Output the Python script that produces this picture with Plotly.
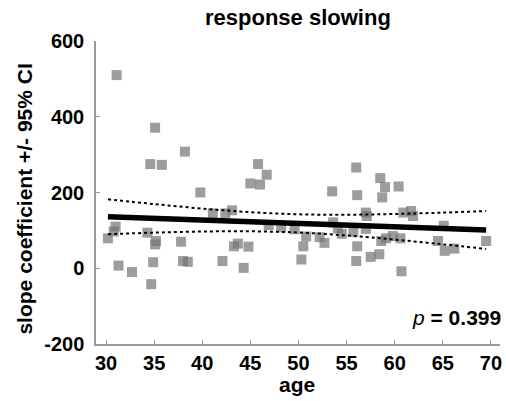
import plotly.graph_objects as go

# Scatter data (age, slope coefficient)
ages = [31.1, 35.1, 34.6, 35.8, 38.2, 39.8, 45.0, 45.8, 46.0, 46.7,
        56.0, 58.5, 59.0, 60.4, 53.5, 56.1, 58.7, 57.0, 57.1, 60.9,
        61.7, 61.9, 65.1, 53.6, 54.1, 54.5, 55.7, 57.0, 46.9, 48.2,
        49.6, 50.8, 50.5, 52.2, 52.7, 56.1, 50.3, 56.0, 57.5, 58.4,
        58.6, 59.1, 59.8, 60.6, 60.7, 64.5, 65.2, 66.2, 69.5, 31.0,
        30.8, 30.2, 34.3, 35.2, 35.1, 37.8, 31.3, 32.7, 34.9, 34.7,
        38.0, 38.5, 41.1, 42.4, 43.1, 43.3, 43.7, 44.8, 42.1, 44.3]
slopes = [510, 371, 275, 273, 308, 200, 224, 275, 221, 247,
          266, 238, 214, 216, 203, 193, 187, 147, 138, 147,
          151, 138, 112, 121, 105, 91, 96, 104, 114, 108,
          103, 84, 58, 82, 67, 58, 23, 19, 30, 37,
          72, 79, 85, 79, -8, 72, 46, 52, 72, 110,
          97, 79, 94, 72, 63, 70, 7, -10, 16, -42,
          19, 17, 145, 145, 153, 58, 65, 57, 19, 1]

# Regression line and 95% CI
fit_ages = [30.2, 35, 40, 45, 50, 55, 60, 65, 69.5]
fit_mid = [136, 131.7, 127.3, 122.8, 118.4, 113.9, 109.5, 105.0, 101]
ci_upper = [182, 169.4, 157.6, 148.1, 142.5, 141.3, 143.3, 146.9, 151]
ci_lower = [90, 94, 97, 97.5, 94.3, 86.5, 75.7, 63.1, 51]

x_ticks = [30, 35, 40, 45, 50, 55, 60, 65, 70]
y_ticks = [-200, 0, 200, 400, 600]
y_tick_labels = ["-200", "0", "200", "400", "600"]

FONT = "Liberation Sans, Arial, Helvetica, sans-serif"
AX = "#9a9a9a"

fig = go.Figure()
fig.add_trace(go.Scatter(
    x=ages, y=slopes, mode="markers",
    marker=dict(symbol="square", size=10, color="rgba(115,115,115,0.7)",
                line=dict(width=0)),
    showlegend=False, hoverinfo="skip"))
fig.add_trace(go.Scatter(
    x=fit_ages, y=ci_upper, mode="lines", line_shape="spline",
    line=dict(color="black", width=2, dash="dot"), showlegend=False))
fig.add_trace(go.Scatter(
    x=fit_ages, y=ci_lower, mode="lines", line_shape="spline",
    line=dict(color="black", width=2, dash="dot"), showlegend=False))
fig.add_trace(go.Scatter(
    x=fit_ages, y=fit_mid, mode="lines",
    line=dict(color="black", width=5.5), showlegend=False))

fig.update_layout(
    width=506, height=401,
    margin=dict(l=96, r=6, t=41, b=57, autoexpand=False),
    paper_bgcolor="white", plot_bgcolor="white",
    font=dict(family=FONT, color="black", size=21),
    annotations=[
        dict(text="<b>response slowing</b>", xref="paper", yref="paper",
             x=0.500, y=1.076, xanchor="center", yanchor="middle",
             showarrow=False, font=dict(size=22, family=FONT, color="black")),
        dict(text="<b>age</b>", xref="paper", yref="paper",
             x=0.498, y=-0.133, xanchor="center", yanchor="middle",
             showarrow=False, font=dict(size=21, family=FONT, color="black")),
        dict(text="<b>slope coefficient +/- 95% CI</b>", xref="paper", yref="paper",
             x=-0.178, y=0.477, xanchor="center", yanchor="middle", textangle=-90,
             showarrow=False, font=dict(size=21, family=FONT, color="black")),
        dict(text="<i>p</i><b> = 0.399</b>", xref="paper", yref="paper",
             x=1.007, y=0.086, xanchor="right", yanchor="middle",
             showarrow=False, font=dict(size=21, family=FONT, color="black")),
    ],
)
fig.update_xaxes(
    range=[28.96, 70.94], tickvals=x_ticks, automargin=False,
    ticks="inside", ticklen=4, tickwidth=1.2, tickcolor=AX,
    showline=True, linecolor=AX, linewidth=1.5, showgrid=False,
    zeroline=False, mirror=False,
    tickfont=dict(size=20, family=FONT, weight="bold"))
fig.update_yaxes(
    range=[-200, 600], tickvals=y_ticks, ticktext=y_tick_labels, automargin=False,
    ticks="inside", ticklen=4, tickwidth=1.2, tickcolor=AX, ticklabelstandoff=6,
    showline=True, linecolor=AX, linewidth=1.5, showgrid=False,
    zeroline=False, mirror=False,
    tickfont=dict(size=20, family=FONT, weight="bold"))

# remove the browser's default 8px page margin so the figure fills the window
fig.write_html("out.html",
               config={"displayModeBar": False},
               post_script="document.body.style.margin='0';"
                           "document.body.style.overflow='hidden';")
